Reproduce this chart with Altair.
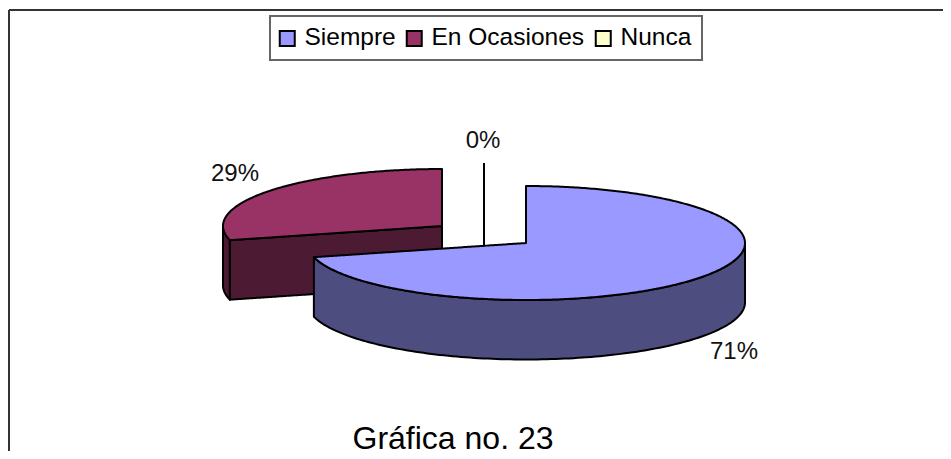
import numpy as np
import pandas as pd
import altair as alt

categories = ["Siempre", "En Ocasiones", "Nunca"]
values = [71, 29, 0]
percent_labels = ["71%", "29%", "0%"]
top_colors = ["#9999FF", "#993366", "#FFFFCC"]
side_colors = ["#4D4D80", "#4D1A33"]

RX, RY, DEPTH = 219.0, 57.0, 59.5
apex_siempre = (526.0, 243.0)
apex_ocasiones = (442.0, 226.0)
nunca_x = 484.0
nunca_y = [163.0, 245.0]
label_x = [734, 235, 483]
label_y = [352, 174, 141]
FONT = "Liberation Sans"

cut = np.radians(values[0] / sum(values) * 360.0)


def ellipse_y(x, apex, sign):
    u = np.clip((x - apex[0]) / RX, -1, 1)
    return apex[1] + sign * RY * np.sqrt(1 - u * u)


def xs_between(a, b, apex):
    ta = np.arccos(np.clip((a - apex[0]) / RX, -1, 1))
    tb = np.arccos(np.clip((b - apex[0]) / RX, -1, 1))
    return apex[0] + RX * np.cos(np.linspace(ta, tb, 140))


def cut_point(apex):
    return apex[0] + RX * np.sin(cut), apex[1] - RY * np.cos(cut)


def band(x, y, y2):
    return pd.DataFrame({"x": x, "y": y, "y2": y2})


# Siempre faces
ax, ay = apex_siempre
px, py = cut_point(apex_siempre)
x = xs_between(px, ax + RX, apex_siempre)
siempre_wall = band(x, ellipse_y(x, apex_siempre, 1), ellipse_y(x, apex_siempre, 1) + DEPTH)
xl = xs_between(px, ax - 0.001, apex_siempre)
xr = xs_between(ax, ax + RX, apex_siempre)
siempre_top = pd.concat([
    band(xl, py + (ay - py) * (xl - px) / (ax - px), ellipse_y(xl, apex_siempre, 1)),
    band(xr, ellipse_y(xr, apex_siempre, -1), ellipse_y(xr, apex_siempre, 1)),
])
siempre_top["cat"] = categories[0]

# En Ocasiones faces
bx, by = apex_ocasiones
qx, qy = cut_point(apex_ocasiones)
xa = xs_between(bx - RX, qx - 0.001, apex_ocasiones)
xb = xs_between(qx, bx, apex_ocasiones)
line_b = qy + (by - qy) * (xb - qx) / (bx - qx)
oc_top = pd.concat([
    band(xa, ellipse_y(xa, apex_ocasiones, -1), ellipse_y(xa, apex_ocasiones, 1)),
    band(xb, ellipse_y(xb, apex_ocasiones, -1), line_b),
])
oc_top["cat"] = categories[1]
xw = xs_between(bx - RX, qx, apex_ocasiones)
oc_left = band(xw, ellipse_y(xw, apex_ocasiones, 1), ellipse_y(xw, apex_ocasiones, 1) + DEPTH)
oc_front = band(xb, line_b, line_b + DEPTH)

X = alt.X("x:Q", axis=None, scale=alt.Scale(domain=[8, 943], nice=False, zero=False))
Y = alt.Y("y:Q", axis=None, scale=alt.Scale(domain=[451, 8], nice=False, zero=False))
Y2 = alt.Y2("y2:Q")
STROKE = dict(stroke="black", strokeWidth=2, strokeJoin="round", orient="vertical")


def wall(df, color):
    return alt.Chart(df).mark_area(color=color, **STROKE).encode(x=X, y=Y, y2=Y2)


color = alt.Color(
    "cat:N",
    scale=alt.Scale(domain=categories, range=top_colors),
    legend=alt.Legend(
        title=None,
        orient="none",
        legendX=262,
        legendY=8,
        direction="horizontal",
        columns=3,
        columnPadding=6,
        padding=10,
        symbolType="square",
        symbolSize=225,
        symbolStrokeColor="black",
        symbolStrokeWidth=2,
        symbolOpacity=1,
        symbolOffset=-5,
        labelFont=FONT,
        labelFontSize=24.5,
        labelColor="black",
        labelOffset=5,
        fillColor="white",
        strokeColor="#666666",
        labelLimit=300,
    ),
)


def top(df):
    return alt.Chart(df).mark_area(**STROKE).encode(x=X, y=Y, y2=Y2, color=color)


frame_v = alt.Chart(pd.DataFrame({"x": [9.0], "y": [10.0], "y2": [451.0]})).mark_rule(
    color="#333333", strokeWidth=2).encode(x=X, y=Y, y2=Y2)
frame_h = alt.Chart(pd.DataFrame({"x": [9.0], "x2": [943.0], "y": [10.0]})).mark_rule(
    color="#333333", strokeWidth=2).encode(x=X, x2=alt.X2("x2:Q"), y=Y)

nunca_line = alt.Chart(pd.DataFrame({"x": [nunca_x], "y": [nunca_y[0]], "y2": [nunca_y[1]]})).mark_rule(
    color="black", strokeWidth=2).encode(x=X, y=Y, y2=Y2)

labels_df = pd.DataFrame({"x": label_x, "y": label_y, "t": percent_labels})
labels = alt.Chart(labels_df).mark_text(
    font=FONT, fontSize=24, color="#111111", align="center", baseline="middle"
).encode(x=X, y=Y, text="t:N")

caption = alt.Chart(pd.DataFrame({"x": [453.0], "y": [449.0], "t": ["Gráfica no. 23"]})).mark_text(
    font=FONT, fontSize=32, color="black", align="center", baseline="alphabetic"
).encode(x=X, y=Y, text="t:N")

chart = alt.layer(
    frame_v, frame_h,
    wall(oc_left, side_colors[1]),
    wall(oc_front, side_colors[1]),
    top(oc_top),
    nunca_line,
    wall(siempre_wall, side_colors[0]),
    top(siempre_top),
    labels,
    caption,
).properties(
    width=935,
    height=443,
    padding=0,
    autosize=alt.AutoSizeParams(type="none"),
).configure_view(stroke=None).configure_legend(strokeWidth=2)

chart.save("out.html", embed_options={"renderer": "svg", "actions": False})
